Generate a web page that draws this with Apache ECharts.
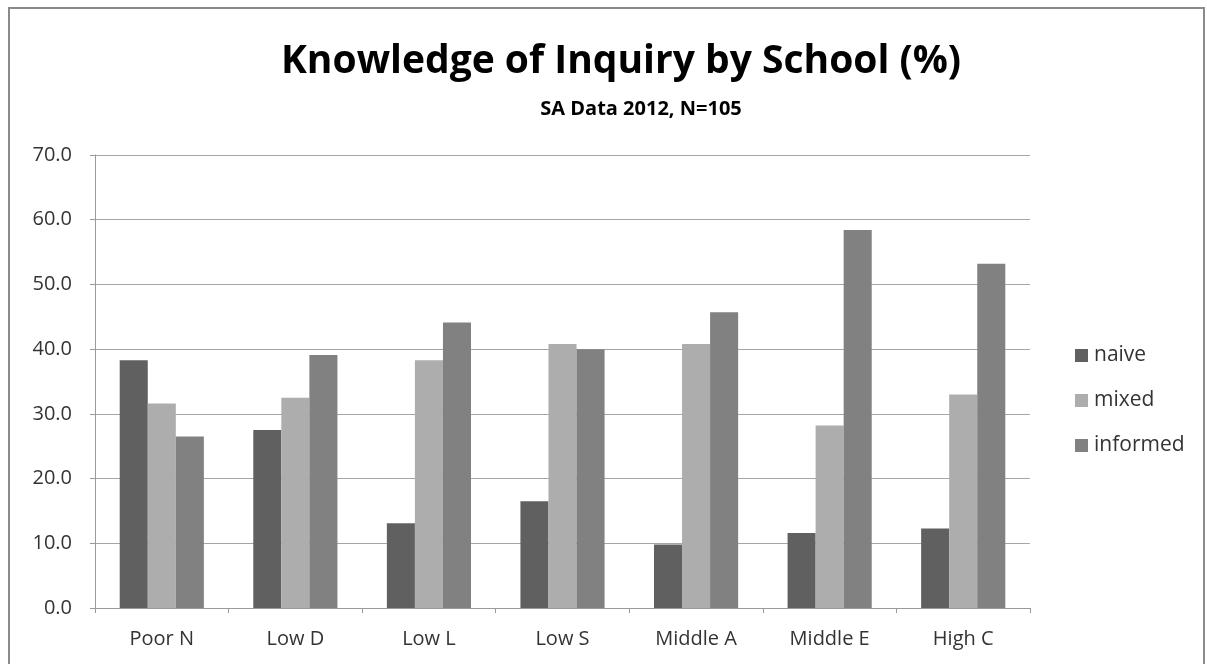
<!DOCTYPE html>
<html><head><meta charset="utf-8">
<script src="https://cdn.jsdelivr.net/npm/echarts@6/dist/echarts.min.js"></script>
<style>html,body{margin:0;padding:0;background:#fff}#c{width:1207px;height:664px}</style>
</head><body><div id="c"></div>
<script>
const categories = ['Poor N','Low D','Low L','Low S','Middle A','Middle E','High C'];
const naive    = [38.3, 27.5, 13.1, 16.5, 9.8, 11.6, 12.3];
const mixed    = [31.6, 32.5, 38.3, 40.8, 40.8, 28.2, 33.0];
const informed = [26.5, 39.1, 44.1, 40.0, 45.7, 58.4, 53.2];
const seriesNames = ['naive','mixed','informed'];
const colors = ['#606060','#adadad','#818181'];
const font = 'Open Sans, Noto Sans, sans-serif';

const chart = echarts.init(document.getElementById('c'));
const data = [naive, mixed, informed];
chart.setOption({
  animation:false,
  backgroundColor:'#fff',
  graphic:[{type:'rect',shape:{x:9,y:8,width:1195,height:680},style:{fill:'none',stroke:'#8a8a8a',lineWidth:2},silent:true}],
  title:[{
    text:'Knowledge of Inquiry by School (%)',
    left:616, textAlign:'center', top:37,
    textStyle:{fontFamily:font,fontWeight:'bold',fontSize:39,color:'#000'}
  },{
    text:'SA Data 2012, N=105',
    left:636, textAlign:'center', top:94,
    textStyle:{fontFamily:font,fontWeight:'bold',fontSize:20,color:'#000'}
  }],
  legend:{
    orient:'vertical', left:1070, top:340, itemGap:24,
    itemWidth:13,itemHeight:13, icon:'rect',
    textStyle:{fontFamily:font,fontSize:21,color:'#333',padding:[0,0,0,1]},
    data:seriesNames
  },
  grid:{left:95,right:177,top:155,bottom:56,containLabel:false},
  xAxis:{
    type:'category', data:categories,
    axisLine:{lineStyle:{color:'#9a9a9a'}},
    axisTick:{show:true,length:5,lineStyle:{color:'#9a9a9a'}},
    axisLabel:{fontFamily:font,fontSize:20,color:'#333',margin:21}
  },
  yAxis:{
    type:'value', min:0, max:70, interval:10,
    axisLine:{show:true,lineStyle:{color:'#9a9a9a'}},
    axisTick:{show:true,length:5,lineStyle:{color:'#9a9a9a'}},
    splitLine:{lineStyle:{color:'#a6a6a6',width:1.2}},
    axisLabel:{fontFamily:font,fontSize:20,color:'#333',margin:23,formatter:v=>v.toFixed(1)}
  },
  series: seriesNames.map((n,i)=>({
    name:n, type:'bar', data:data[i], barGap:'0%', barCategoryGap:'37%',
    itemStyle:{color:colors[i]}
  }))
});
</script></body></html>
